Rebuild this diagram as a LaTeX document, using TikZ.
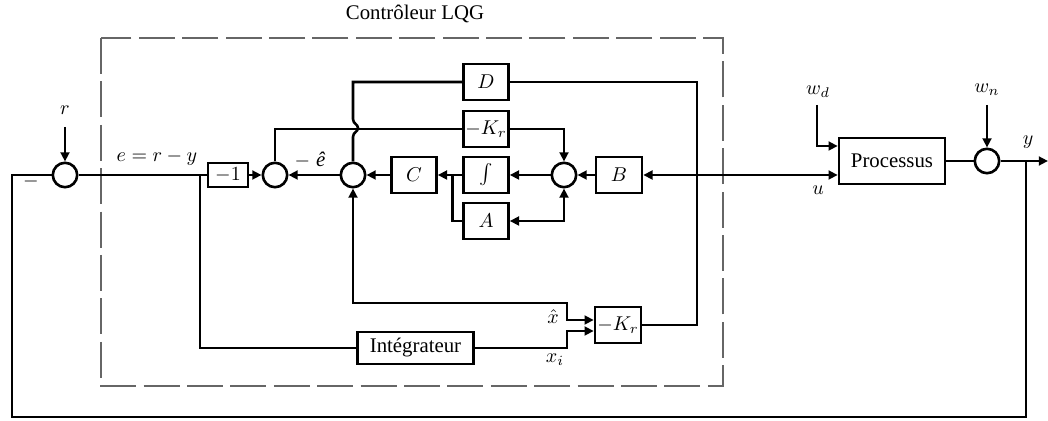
\documentclass[tikz,border=0pt]{standalone}
\usepackage{fontspec}
\setmainfont{Liberation Serif}
\usetikzlibrary{arrows.meta}

\begin{document}
\begin{tikzpicture}[x=0.5pt,y=-0.5pt,
  >={Triangle[length=4.6pt,width=4.4pt]},
  every node/.style={font=\fontsize{10.4}{12}\selectfont},
  wire/.style={line width=1.3pt},
  tag/.style={inner sep=0.5pt},
  sumnode/.style={circle,draw,line width=1.3pt,minimum size=12.2pt,inner sep=0pt},
  blk/.style={draw,line width=1.3pt,minimum width=22.5pt,minimum height=18pt,inner sep=0pt},
  frame/.style={draw=black!60,line width=0.7pt,dash pattern=on 18pt off 3.7pt}]

\useasboundingbox (0,0) rectangle (1048,421);
\fill[white] (0,0) rectangle (1048,421);

% controller frame and title
\draw[frame] (101,38) rectangle (723,386);
\node (title) at (415,14) {Contrôleur LQG};

% summing junctions
\node[sumnode] (s1) at (65,175) {};
\node[sumnode] (s2) at (275,175) {};
\node[sumnode] (s3) at (353,175) {};
\node[sumnode] (s4) at (564,175) {};
\node[sumnode] (s5) at (987,161) {};

% blocks
\node[blk,minimum width=20pt,minimum height=12pt] (m1) at (228,175) {$-1$};
\node[blk] (D) at (486,82) {$D$};
\node[blk] (K1) at (486,129) {$-K_r$};
\node[blk] (I) at (486,175) {$\int$};
\node[blk] (A) at (486,221) {$A$};
\node[blk] (C) at (414,175) {$C$};
\node[blk,minimum width=23pt] (B) at (619,175) {$B$};
\node[blk,minimum width=53pt,minimum height=23pt] (P) at (892,161) {Processus};
\node[blk,minimum width=58pt,minimum height=16pt] (G) at (415.5,348) {Intégrateur};
\node[blk,minimum width=23pt] (K2) at (618,325) {$-K_r$};

% free ends and corners
\coordinate (rin) at (65,127);
\coordinate (wdin) at (817,105);
\coordinate (wnin) at (987,105);
\coordinate (yout) at (1048,161);
\coordinate (ybr) at (1026,161);
\coordinate (ebr) at (200,175);
\coordinate (ibr) at (452.5,175);

% reference input and error path
\draw[wire,->] (rin) -- (s1.north);
\draw[wire] (s1.east) -- (m1.west);
\draw[wire,->] (m1.east) -- (s2.west);
\draw[wire,->] (s3.west) -- (s2.east);
\draw[wire,->] (C.west) -- (s3.east);
\draw[wire,->] (I.west) -- (C.east);
\draw[wire] (ibr) |- (A.west);
\draw[wire,->] (s4.west) -- (I.east);
\draw[wire,->] (B.west) -- (s4.east);
\draw[wire,<->] (A.east) -| (s4.south);
\draw[wire,->] (K1.east) -| (s4.north);
\draw[wire] (s2.north) |- (K1.west);

% D feedthrough, hopping over the -K_r line
\draw[wire] (D.west) -| (353,119) .. controls (353,124) and (358,124) .. (358,128)
  .. controls (358,132) and (353,132) .. (353,137) -- (s3.north);

% state estimate and integrator into the gain
\draw[wire,<->] (s3.south) -- (353,303) -- (567,303) -- (567,320) -- (K2.west |- 0,320);
\draw[wire] (ebr) |- (G.west);
\draw[wire,->] (G.east) -- (567,348) -- (567,331) -- (K2.west |- 0,331);

% control signal u
\draw[wire] (K2.east) -- (697,325) -- (697,82) -- (D.east);
\draw[wire,<->] (B.east) -- (P.west |- B.east);

% plant, disturbances and output
\draw[wire,->] (wdin) |- (P.west |- 0,146);
\draw[wire] (P.east) -- (s5.west);
\draw[wire,->] (wnin) -- (s5.north);
\draw[wire,->] (s5.east) -- (yout);
\draw[wire] (ybr) -- (1026,417) -- (12,417) -- (12,175) -- (s1.west);

% signal labels
\node[tag] (lr) at (65,110) {$r$};
\node[tag] (le) at (157,158) {$e=r-y$};
\node[tag] (lm) at (31,182) {$-$};
\node[tag] (leh) at (310,160) {$-$\;\textit{ê}};
\node[tag] (lwd) at (818,92) {$w_d$};
\node[tag] (lu) at (818,190) {$u$};
\node[tag] (lwn) at (987,90) {$w_n$};
\node[tag] (ly) at (1028,142) {$y$};
\node[tag] (lxh) at (553,317) {$\hat{x}$};
\node[tag] (lxi) at (555,360) {$x_i$};
\end{tikzpicture}
\end{document}
